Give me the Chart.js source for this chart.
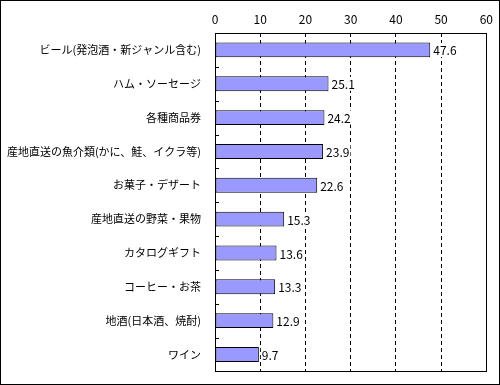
<!DOCTYPE html>
<html>
<head>
<meta charset="utf-8">
<script src="https://cdn.jsdelivr.net/npm/chart.js@4"></script>
<style>
  html, body { margin: 0; padding: 0; background: #fff; }
  #wrap { width: 500px; height: 385px; box-sizing: border-box; border: 1px solid #000; }
</style>
</head>
<body>
<div id="wrap"><canvas id="chart" width="498" height="383"></canvas></div>
<script>
"use strict";
const categories = [
  "ビール(発泡酒・新ジャンル含む)",
  "ハム・ソーセージ",
  "各種商品券",
  "産地直送の魚介類(かに、鮭、イクラ等)",
  "お菓子・デザート",
  "産地直送の野菜・果物",
  "カタログギフト",
  "コーヒー・お茶",
  "地酒(日本酒、焼酎)",
  "ワイン",
];
const values = [47.6, 25.1, 24.2, 23.9, 22.6, 15.3, 13.6, 13.3, 12.9, 9.7];
const xMin = 0;
const xMax = 60;
const xStep = 10;

const FONT = "'Noto Sans CJK JP', 'Noto Sans', sans-serif";

// frame, inner ticks and value labels
const extras = {
  id: "extras",
  afterDatasetsDraw(chart) {
    const ctx = chart.ctx;
    const a = chart.chartArea;
    const y = chart.scales.y;
    ctx.save();
    ctx.strokeStyle = "#000";
    ctx.lineWidth = 1;
    ctx.strokeRect(Math.round(a.left) + 0.5, Math.round(a.top) + 0.5,
      Math.round(a.right - a.left), Math.round(a.bottom - a.top));
    ctx.beginPath();
    for (let i = 0; i < categories.length - 1; i++) {
      const py = Math.round((y.getPixelForValue(i) + y.getPixelForValue(i + 1)) / 2) + 0.5;
      ctx.moveTo(a.left, py);
      ctx.lineTo(a.left + 4, py);
    }
    ctx.stroke();
    ctx.font = "12px " + FONT;
    ctx.textBaseline = "middle";
    ctx.textAlign = "left";
    chart.getDatasetMeta(0).data.forEach((bar, i) => {
      const txt = values[i].toFixed(1);
      const w = ctx.measureText(txt).width;
      ctx.fillStyle = "#fff";
      ctx.fillRect(bar.x + 2, bar.y - 7, w + 2, 14);
      ctx.fillStyle = "#000";
      ctx.fillText(txt, bar.x + 3, bar.y + 1);
    });
    ctx.restore();
  },
};

new Chart(document.getElementById("chart").getContext("2d"), {
  type: "bar",
  data: {
    labels: categories,
    datasets: [
      {
        data: values,
        backgroundColor: "#9999ff",
        borderColor: "#000",
        borderWidth: 1,
        borderSkipped: false,
        categoryPercentage: 1,
        barPercentage: 0.44,
      },
    ],
  },
  options: {
    indexAxis: "y",
    responsive: false,
    animation: false,
    layout: { padding: { left: 0, right: 12, top: 0, bottom: 5 } },
    plugins: { legend: { display: false }, tooltip: { enabled: false } },
    scales: {
      x: {
        position: "top",
        min: xMin,
        max: xMax,
        ticks: { stepSize: xStep, color: "#000", font: { family: FONT, size: 12 }, padding: 6 },
        grid: { color: "#000", drawTicks: false, lineWidth: 1 },
        border: { display: false, dash: [4, 3] },
        afterFit(scale) { scale.height = 32; },
      },
      y: {
        ticks: { color: "#000", font: { family: FONT, size: 11 }, padding: 6 },
        grid: { display: false },
        border: { display: false },
        afterFit(scale) { scale.width = 214; },
      },
    },
  },
  plugins: [extras],
});
</script>
</body>
</html>
